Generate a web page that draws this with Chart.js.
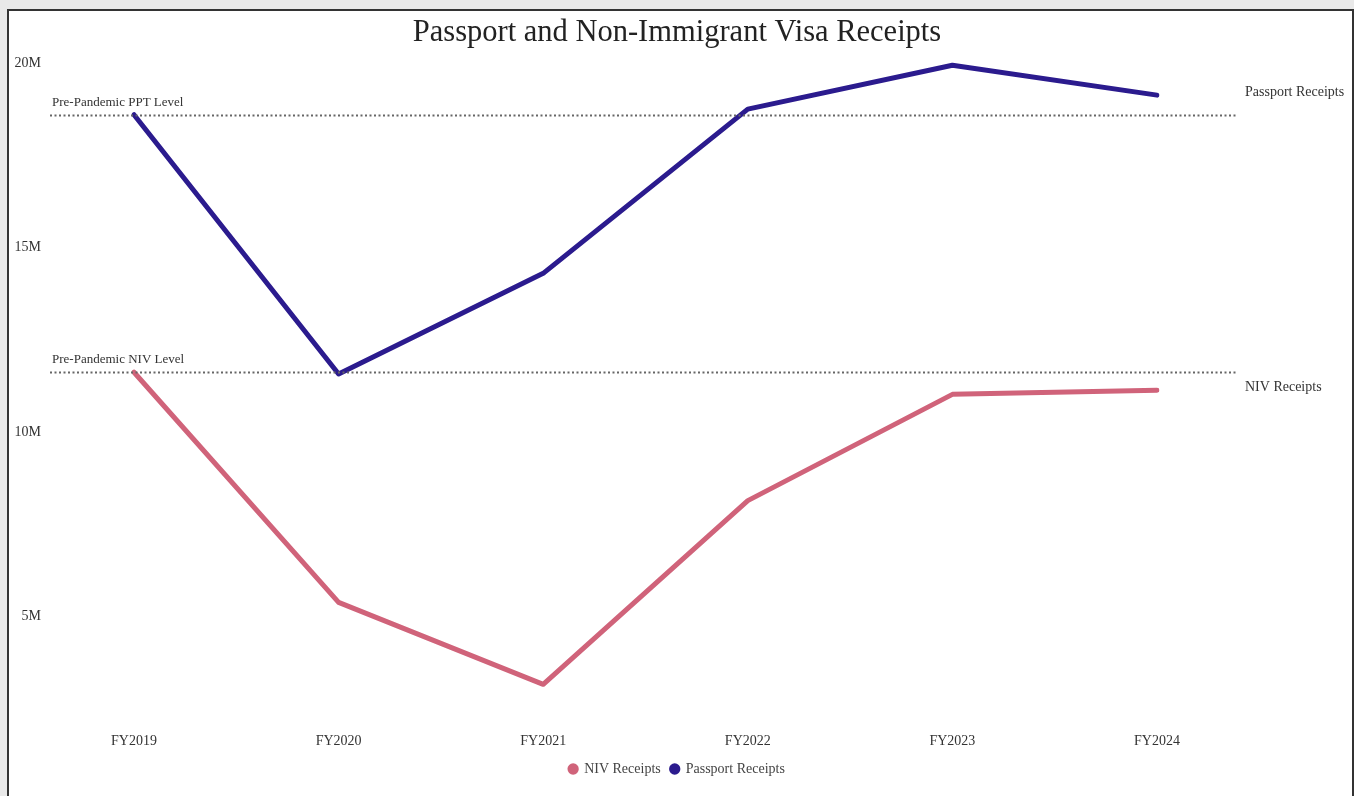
<!DOCTYPE html>
<html>
<head>
<meta charset="utf-8">
<script src="https://cdn.jsdelivr.net/npm/chart.js@4/dist/chart.umd.min.js"></script>
<style>
  html, body { margin:0; padding:0; width:1354px; height:796px; overflow:hidden; background:#e9e9e9; }
  #frame { position:absolute; left:7px; top:9px; width:1343px; height:800px; border:2px solid #333; background:#fff; }
  #wrap { position:absolute; left:0; top:0; width:1354px; height:796px; }
</style>
</head>
<body>
<div id="frame"></div>
<div id="wrap"><canvas id="c" width="1354" height="796"></canvas></div>
<script>
const categories = ["FY2019", "FY2020", "FY2021", "FY2022", "FY2023", "FY2024"];
const passportReceipts = [18600000, 11570000, 14300000, 18750000, 19940000, 19130000];
const nivReceipts = [11620000, 5380000, 3160000, 8140000, 11020000, 11130000];
const yTickValues = [5000000, 10000000, 15000000, 20000000];
const prePandemicPPT = 18600000;
const prePandemicNIV = 11620000;

const SERIF = "'Liberation Serif', 'Times New Roman', serif";
const BLUE = '#2b1b8e';
const PINK = '#d0637a';

const annotationPlugin = {
  id: 'refLines',
  afterDatasetsDraw(chart) {
    const ctx = chart.ctx;
    const x = chart.scales.x, y = chart.scales.y;
    const x0 = x.getPixelForValue(0) - 84;
    const x1 = x.getPixelForValue(categories.length - 1) + 81;
    const lines = [
      { v: prePandemicPPT, label: 'Pre-Pandemic PPT Level' },
      { v: prePandemicNIV, label: 'Pre-Pandemic NIV Level' }
    ];
    ctx.save();
    lines.forEach(l => {
      const py = Math.round(y.getPixelForValue(l.v)) + 0.5;
      ctx.strokeStyle = '#666';
      ctx.lineWidth = 2;
      ctx.setLineDash([2, 2.5]);
      ctx.beginPath();
      ctx.moveTo(x0, py);
      ctx.lineTo(x1, py);
      ctx.stroke();
      ctx.setLineDash([]);
      ctx.fillStyle = '#333';
      ctx.font = "13px " + SERIF;
      ctx.textAlign = 'left';
      ctx.textBaseline = 'middle';
      ctx.fillText(l.label, x0 + 2, py - 13);
    });
    chart.data.datasets.forEach((ds, i) => {
      const meta = chart.getDatasetMeta(i);
      const last = meta.data[meta.data.length - 1];
      ctx.fillStyle = '#333';
      ctx.font = "14px " + SERIF;
      ctx.textAlign = 'left';
      ctx.textBaseline = 'middle';
      ctx.fillText(ds.label, last.x + 88, last.y - 3);
    });
    ctx.restore();
  }
};

new Chart(document.getElementById('c'), {
  type: 'line',
  data: {
    labels: categories,
    datasets: [
      { label: 'NIV Receipts', data: nivReceipts, borderColor: PINK, backgroundColor: PINK,
        borderWidth: 5, pointRadius: 0, tension: 0, borderCapStyle: 'round', borderJoinStyle: 'round' },
      { label: 'Passport Receipts', data: passportReceipts, borderColor: BLUE, backgroundColor: BLUE,
        borderWidth: 5, pointRadius: 0, tension: 0, borderCapStyle: 'round', borderJoinStyle: 'round' }
    ]
  },
  options: {
    responsive: false,
    animation: false,
    devicePixelRatio: 1,
    layout: { padding: { top: 0, bottom: 10, left: 0, right: 0 } },
    plugins: {
      title: {
        display: true,
        text: 'Passport and Non-Immigrant Visa Receipts',
        color: '#222',
        font: { family: SERIF, size: 30.5, weight: 'normal', lineHeight: 1.2 },
        padding: { top: 15, bottom: 0 }
      },
      legend: {
        position: 'bottom',
        labels: {
          usePointStyle: true,
          pointStyle: 'circle',
          boxWidth: 8,
          boxHeight: 8,
          color: '#444',
          padding: 10,
          font: { family: SERIF, size: 14 },
          generateLabels(chart) {
            const items = Chart.defaults.plugins.legend.labels.generateLabels(chart);
            items.forEach(it => { it.lineWidth = 0; });
            return items;
          }
        }
      },
      tooltip: { enabled: false }
    },
    scales: {
      x: {
        type: 'category',
        offset: false,
        grid: { display: false, drawTicks: false },
        border: { display: false },
        ticks: { color: '#333', font: { family: SERIF, size: 14 }, padding: 2, maxRotation: 0 }
      },
      y: {
        position: 'left',
        min: 1890000,
        max: 20310000,
        grid: { display: false, drawTicks: false },
        border: { display: false },
        afterFit(scale) { scale.width = 134; scale.paddingTop = 0; scale.paddingBottom = 0; },
        afterBuildTicks(scale) { scale.ticks = yTickValues.map(v => ({ value: v })); },
        ticks: {
          color: '#333',
          padding: 93,
          font: { family: SERIF, size: 14 },
          callback: v => (v / 1000000) + 'M'
        }
      },
      yRight: {
        position: 'right',
        display: true,
        grid: { display: false, drawTicks: false },
        border: { display: false },
        ticks: { display: false },
        afterFit(scale) { scale.width = 197; scale.paddingTop = 0; scale.paddingBottom = 0; }
      }
    }
  },
  plugins: [annotationPlugin]
});
</script>
</body>
</html>
